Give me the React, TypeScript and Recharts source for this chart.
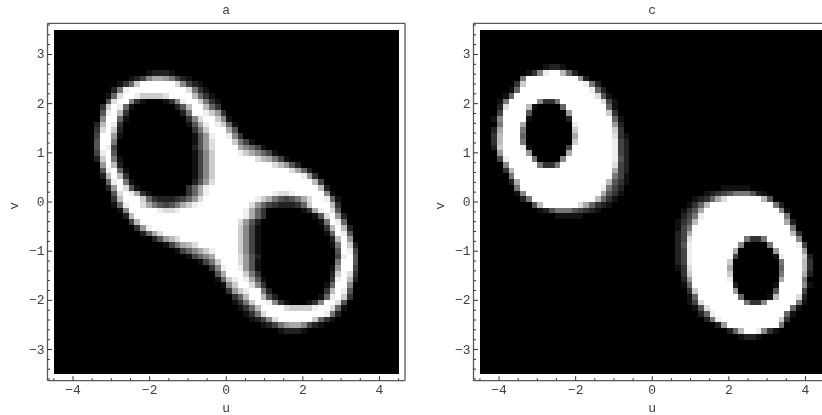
import React from 'react'
import { ScatterChart, Scatter, XAxis, YAxis, Label } from 'recharts'

/* ---------- Data: cell centres and grey levels ---------- */

const U_CENTERS = [
    -4.425, -4.275, -4.125, -3.975, -3.825, -3.675, -3.525, -3.375, -3.225, -3.075,
    -2.925, -2.775, -2.625, -2.475, -2.325, -2.175, -2.025, -1.875, -1.725, -1.575,
    -1.425, -1.275, -1.125, -0.975, -0.825, -0.675, -0.525, -0.375, -0.225, -0.075,
    0.075, 0.225, 0.375, 0.525, 0.675, 0.825, 0.975, 1.125, 1.275, 1.425,
    1.575, 1.725, 1.875, 2.025, 2.175, 2.325, 2.475, 2.625, 2.775, 2.925,
    3.075, 3.225, 3.375, 3.525, 3.675, 3.825, 3.975, 4.125, 4.275, 4.425,
]

const V_CENTERS = [
    3.442, 3.325, 3.208, 3.092, 2.975, 2.858, 2.742, 2.625, 2.508, 2.392,
    2.275, 2.158, 2.042, 1.925, 1.808, 1.692, 1.575, 1.458, 1.342, 1.225,
    1.108, 0.992, 0.875, 0.758, 0.642, 0.525, 0.408, 0.292, 0.175, 0.058,
    -0.058, -0.175, -0.292, -0.408, -0.525, -0.642, -0.758, -0.875, -0.992, -1.108,
    -1.225, -1.342, -1.458, -1.575, -1.692, -1.808, -1.925, -2.042, -2.158, -2.275,
    -2.392, -2.508, -2.625, -2.742, -2.858, -2.975, -3.092, -3.208, -3.325, -3.442,
]

// rows run top to bottom, one hex grey digit per cell; "12*f" means twelve cells of f.
// a row stops at its last lit cell, the rest is black
const PANEL_A = [
    '', '', '', '', '', '', '',
    '16*0 12221',
    '13*0 1248aa97421',
    '11*0 136c 6*f d8421',
    '10*0 27e 10*f d731',
    '9*0 16d ff eccccd ffff b631',
    '9*0 5dff 831 000 138e ff c731',
    '8*0 3cfe61 7*0 25b ff b63',
    '8*0 5efb3 9*0 27 ff ec93',
    '8*0 8ff61 10*0 38d ff c81',
    '7*0 2bfe3 11*0 15ae fe c61',
    '7*0 3dfc2 12*0 37c fff a5',
    '7*0 4ff91 12*0 159e ff e83',
    '7*0 5ff7 13*0 159d fff c741',
    '7*0 5fe4 13*0 259d ffff a8641',
    '7*0 4ef5 13*0 148c ffff eca8641',
    '7*0 2cf71 12*0 148c 7*f dba741',
    '8*0 9fb2 12*0 148c 10*f db952',
    '8*0 5ef61 11*0 148c 13*f da62',
    '8*0 2bfb3 11*0 148c 15*f e93',
    '9*0 6ef71 10*0 259d 17*f b4',
    '9*0 29fd51 8*0 36ae 19*f b2',
    '10*0 5dfea31 6*0 36ae 11*f edde 5*f 81',
    '10*0 3bfffc6 322234 69d 9*f eca754 57ad ff e61',
    '10*0 16e ff da75 457ace 9*f d96 432223 6cfffb3',
    '11*0 18 5*f edde 11*f ea63 6*0 13aefd5',
    '12*0 2b 19*f ea63 8*0 15df92',
    '13*0 4b 17*f d952 10*0 17fe6',
    '14*0 39e 15*f c841 11*0 3bfb2',
    '15*0 26ad 13*f c841 11*0 16fe5',
    '17*0 259bd 10*f c841 12*0 2bf9',
    '19*0 147abd 7*f c841 12*0 17fc2',
    '21*0 1468ace ffff c841 13*0 5fe4',
    '23*0 1468a ffff d952 13*0 4ef5',
    '25*0 147c fff d951 13*0 7ff5',
    '27*0 38e ff e951 12*0 19ff4',
    '28*0 5a fff c73 12*0 2cfd3',
    '28*0 16c ef ea51 11*0 3efb2',
    '29*0 18c ff d83 10*0 16ff8',
    '30*0 39ce ff 72 9*0 3bfe5',
    '31*0 36b ff b52 7*0 16efc3',
    '31*0 137c ff e831 000 138 ffd5',
    '32*0 136b ffff dcccce ff d61',
    '33*0 137d 10*f e72',
    '34*0 1248d 6*f c631',
    '36*0 12479aa8421',
    '39*0 12221',
]

const PANEL_C = [
    '', '', '', '', '', '',
    '11*0 1221',
    '8*0 138effb62',
    '7*0 7 9*f 92',
    '6*0 3c 10*f e72',
    '5*0 16 12*f e62',
    '4*0 16 14*f d51',
    '3*0 17 5*f 8337 7*f d41',
    '3*0 2d fff b1 0000 6 7*f 61',
    '3*0 4 ffff 5 6*0 9 6*f c3',
    '2*0 18 ffff 1 6*0 2 7*f 61',
    '3*0 7 fff a 8*0 e 6*f 92',
    '2*0 2a fff 7 8*0 c 6*f c3',
    '2*0 3b fff 6 8*0 a 6*f d31',
    '2*0 3b fff 7 8*0 c 6*f e42',
    '2*0 2c fff e1 6*0 4 7*f e42',
    '3*0 9 ffff 9 6*0 a 7*f e42',
    '3*0 4e ffff 7 0000 8 8*f e52',
    '4*0 8 5*f 7337 9*f d42',
    '4*0 3b 17*f a42',
    '5*0 7 17*f 741',
    '5*0 2a 15*f b531',
    '6*0 7 14*f e742 17*0 11111',
    '6*0 18 13*f a531 14*0 12345777521',
    '7*0 27 11*f b631 13*0 1236ad 6*f b5',
    '9*0 5b 6*f da6321 13*0 136b 11*f 72',
    '10*0 12577754321 14*0 135a 13*f 81',
    '13*0 11111 17*0 247e 14*f 7',
    '34*0 135b 15*f a2',
    '34*0 147 17*f 7',
    '34*0 24a 17*f b3',
    '34*0 24d 9*f 7337 5*f 8',
    '34*0 25e 8*f 8 0000 7 ffff e4',
    '34*0 24e 7*f a 6*0 9 ffff 9',
    '34*0 24e 7*f 4 6*0 1e fff c2',
    '34*0 24e 6*f c 8*0 7 fff b3',
    '34*0 13d 6*f a 8*0 6 fff b3',
    '35*0 3c 6*f c 8*0 7 fff a2',
    '35*0 29 6*f e 8*0 a fff 7',
    '35*0 16 7*f 2 6*0 1 ffff 81',
    '36*0 3c 6*f 9 6*0 5 ffff 4',
    '36*0 16 7*f 6 0000 1b fff d2',
    '36*0 14d 7*f 7338 5*f 71',
    '37*0 15d 14*f 61',
    '38*0 26e 12*f 61',
    '39*0 27e 10*f c3',
    '41*0 29 9*f 7',
    '43*0 26bffe831',
    '45*0 1221',
]

const U_TICKS = [-4.5, -4, -3.5, -3, -2.5, -2, -1.5, -1, -0.5, 0, 0.5, 1, 1.5, 2, 2.5, 3, 3.5, 4, 4.5]
const U_MAJOR = [-4, -2, 0, 2, 4]
const V_TICKS = [
    -3.6, -3.4, -3.2, -3, -2.8, -2.6, -2.4, -2.2, -2, -1.8, -1.6, -1.4, -1.2, -1, -0.8, -0.6, -0.4, -0.2,
    0, 0.2, 0.4, 0.6, 0.8, 1, 1.2, 1.4, 1.6, 1.8, 2, 2.2, 2.4, 2.6, 2.8, 3, 3.2, 3.4, 3.6,
]
const V_MAJOR = [-3, -2, -1, 0, 1, 2, 3]

/* ---------- Helpers ---------- */

const FONT = '"Liberation Mono", "DejaVu Sans Mono", monospace'
const TEXT_COLOR = '#404040'
const FRAME_COLOR = '#5a5a5a'

type Cell = { u: number; v: number; level: string }

const expandRow = (row: string): string =>
    row
        .split(' ')
        .map(t => (t.includes('*') ? t.split('*')[1].repeat(Number(t.split('*')[0])) : t))
        .join('')
        .padEnd(U_CENTERS.length, '0')

const buildCells = (rows: string[]): Cell[] =>
    V_CENTERS.flatMap((v, j) => {
        const row = expandRow(rows[j] ?? '')
        return U_CENTERS.map((u, i) => ({ u, v, level: row[i] }))
    })

const CellShape = (props: any) => {
    const { cx, cy, payload } = props
    const l = payload.level
    return (
        <rect
            x={cx - 2.875}
            y={cy - 2.875}
            width={5.75}
            height={5.75}
            fill={`#${l}${l}${l}`}
            shapeRendering="crispEdges"
        />
    )
}

// inward ticks on all four sides; dx/dy point into the plot
const makeTick = (major: number[], dx: number, dy: number, showLabel: boolean, side: 'x' | 'y') => (props: any) => {
    const { x, y, payload } = props
    const isMajor = major.includes(payload.value)
    const len = isMajor ? 4.5 : 2.5
    const text = String(payload.value).replace('-', '\u2212')
    return (
        <g>
            <line x1={x} y1={y} x2={x + dx * len} y2={y + dy * len} stroke="#333" strokeWidth={1} />
            {showLabel && isMajor && (
                <text
                    x={side === 'x' ? x : x - 3}
                    y={side === 'x' ? y + 13.5 : y + 4}
                    textAnchor={side === 'x' ? 'middle' : 'end'}
                    fontFamily={FONT}
                    fontSize={13}
                    fill={TEXT_COLOR}
                >
                    {text}
                </text>
            )}
        </g>
    )
}

const labelProps = { fontFamily: FONT, fontSize: 13, fill: TEXT_COLOR }

const Panel: React.FC<{ title: string; rows: string[]; left: number }> = ({ title, rows, left }) => {
    const axisLine = { stroke: FRAME_COLOR, strokeWidth: 1.3 }
    return (
        // own layer keeps the text antialiasing grey, as in the reference
        <div style={{ position: 'absolute', left, top: 0, willChange: 'transform' }}>
            <ScatterChart width={420} height={415} margin={{ top: 22.3, right: 14, bottom: 33.3, left: 46.5 }}>
                <XAxis
                    type="number" dataKey="u" domain={[-4.667, 4.667]} ticks={U_TICKS} interval={0}
                    height={1} tickSize={0} tickMargin={0} tickLine={false} axisLine={axisLine}
                    tick={makeTick(U_MAJOR, 0, -1, true, 'x')}
                >
                    <Label value="u" position="bottom" offset={21} {...labelProps} />
                </XAxis>
                <XAxis
                    xAxisId="top" orientation="top" type="number" domain={[-4.667, 4.667]} ticks={U_TICKS} interval={0}
                    height={1} tickSize={0} tickMargin={0} tickLine={false} axisLine={axisLine}
                    tick={makeTick(U_MAJOR, 0, 1, false, 'x')}
                >
                    <Label value={title} position="top" offset={8} {...labelProps} />
                </XAxis>
                <YAxis
                    type="number" dataKey="v" domain={[-3.634, 3.634]} ticks={V_TICKS} interval={0}
                    width={1} tickSize={0} tickMargin={0} tickLine={false} axisLine={axisLine}
                    tick={makeTick(V_MAJOR, 1, 0, true, 'y')}
                >
                    <Label value="v" position="left" angle={-90} offset={33} {...labelProps} />
                </YAxis>
                <YAxis
                    yAxisId="right" orientation="right" type="number" domain={[-3.634, 3.634]} ticks={V_TICKS} interval={0}
                    width={1} tickSize={0} tickMargin={0} tickLine={false} axisLine={axisLine}
                    tick={makeTick(V_MAJOR, -1, 0, false, 'y')}
                />
                <Scatter data={buildCells(rows)} shape={CellShape} isAnimationActive={false} />
            </ScatterChart>
        </div>
    )
}

export default function App() {
    return (
        <div style={{ position: 'absolute', left: 0, top: 0, width: 822, height: 415, overflow: 'hidden', background: '#fff' }}>
            <Panel title="a" rows={PANEL_A} left={0} />
            <Panel title="c" rows={PANEL_C} left={426.2} />
        </div>
    )
}
